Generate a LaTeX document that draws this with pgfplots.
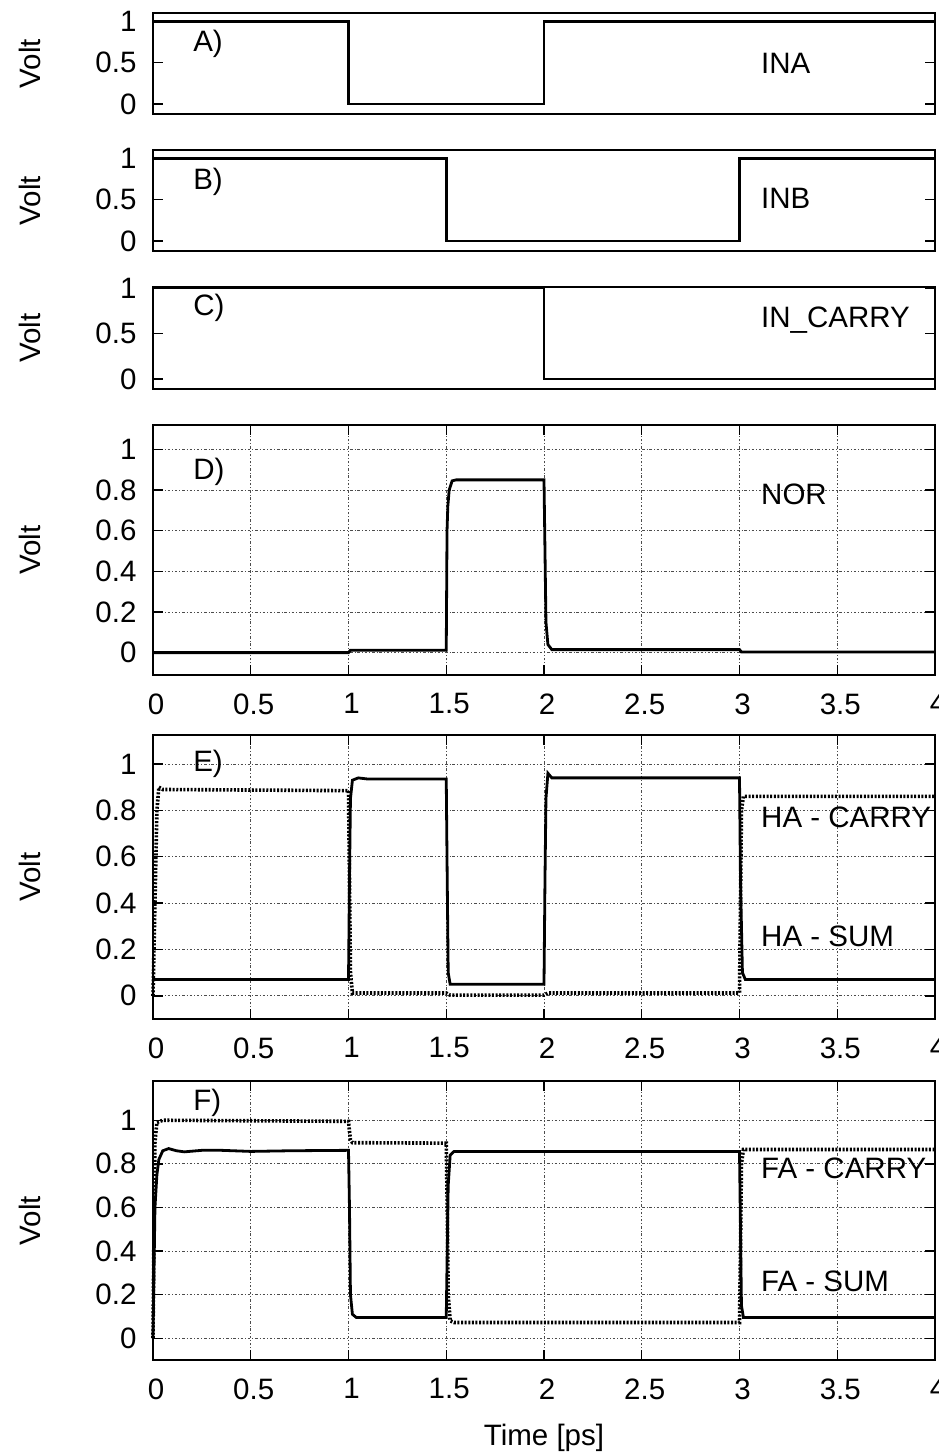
\documentclass[border=0pt]{standalone}
\usepackage{fontspec}
\setmainfont{Liberation Sans}
\usepackage{pgfplots}
\pgfplotsset{compat=1.18}
\newcommand\bigf{\fontsize{29.5}{33}\selectfont}
\tikzset{lab/.style={anchor=west, inner sep=0pt, font=\bigf}}
\pgfplotsset{
 base/.style={scale only axis, width=782pt, xmin=0, xmax=4,
   axis line style={line width=1.6pt}, tick style={line width=1.4pt, black},
   major tick length=10pt, tick align=inside,
   /pgf/number format/assume math mode=true,
   tick label style={font=\bigf}, label style={font=\bigf},
   ylabel={Volt}, ylabel style={at={(axis description cs:-0.157,0.5)}, anchor=center},
   yticklabel style={xshift=-13pt}, xticklabel style={yshift=-15pt, xshift=3pt},
   clip=false},
 small/.style={base, height=101pt, xtick=\empty, ytick={0,0.5,1}, ymin=-0.12, ymax=1.1},
 big/.style={base, xtick={0,0.5,1,1.5,2,2.5,3,3.5,4}, ytick={0,0.2,0.4,0.6,0.8,1},
   grid=major, grid style={black!70, line width=0.8pt, dash pattern=on 2.5pt off 2pt on 0.8pt off 2pt}},
 sig/.style={black, line width=2.8pt, no markers},
 carry/.style={black, line width=3.6pt, no markers, dash pattern=on 2pt off 1.6pt},
}
\begin{document}
\begin{tikzpicture}
% A
\begin{axis}[small, at={(153pt,-13pt)}, anchor=north west]
\addplot[sig] coordinates {(0,1) (1,1) (1,0) (2,0) (2,1) (4,1)};
\node[lab] at (axis cs:0.205,0.73) {A)};
\node[lab] at (axis cs:3.11,0.49) {INA};
\end{axis}
% B
\begin{axis}[small, at={(153pt,-150pt)}, anchor=north west]
\addplot[sig] coordinates {(0,1) (1.5,1) (1.5,0) (3,0) (3,1) (4,1)};
\node[lab] at (axis cs:0.205,0.72) {B)};
\node[lab] at (axis cs:3.11,0.51) {INB};
\end{axis}
% C
\begin{axis}[small, height=102pt, ymin=-0.11, ymax=1.01, at={(153pt,-287pt)}, anchor=north west]
\addplot[sig] coordinates {(0,1) (2,1) (2,0) (4,0)};
\node[lab] at (axis cs:0.205,0.78) {C)};
\node[lab] at (axis cs:3.11,0.65) {IN\_CARRY};
\end{axis}
% D
\begin{axis}[big, height=250pt, ymin=-0.11, ymax=1.12, at={(153pt,-425pt)}, anchor=north west]
\addplot[sig] coordinates {(0,0) (1,0) (1.01,0.012) (1.5,0.012) (1.502,0.3) (1.504,0.6)
 (1.508,0.72) (1.515,0.8) (1.53,0.845) (1.55,0.85) (2.0,0.85) (2.005,0.5) (2.01,0.15)
 (2.02,0.04) (2.04,0.015) (3.0,0.015) (3.01,0.003) (4,0.003)};
\node[lab] at (axis cs:0.205,0.89) {D)};
\node[lab] at (axis cs:3.11,0.78) {NOR};
\end{axis}
% E
\begin{axis}[big, height=284pt, ymin=-0.1, ymax=1.125, at={(153pt,-735pt)}, anchor=north west]
\addplot[carry] coordinates {(0,0) (0.01,0.4) (0.02,0.8) (0.03,0.9) (0.05,0.89)
 (1.0,0.885) (1.005,0.5) (1.01,0.1) (1.02,0.012) (1.5,0.012) (1.52,0.003) (2.0,0.003)
 (2.02,0.012) (3.0,0.012) (3.005,0.4) (3.01,0.8) (3.02,0.86) (4,0.86)};
\addplot[sig] coordinates {(0,0.07) (1.0,0.07) (1.005,0.5) (1.01,0.85) (1.02,0.93)
 (1.05,0.94) (1.1,0.935) (1.5,0.935) (1.505,0.5) (1.51,0.1) (1.52,0.05) (2.0,0.05)
 (2.005,0.5) (2.01,0.85) (2.02,0.96) (2.04,0.94) (3.0,0.94) (3.005,0.5) (3.015,0.1)
 (3.03,0.07) (4,0.07)};
\node[lab] at (axis cs:0.205,1.0) {E)};
\node[lab] at (axis cs:3.11,0.77) {HA - CARRY};
\node[lab] at (axis cs:3.11,0.255) {HA - SUM};
\end{axis}
% F
\begin{axis}[big, height=279pt, ymin=-0.1, ymax=1.18, at={(153pt,-1081pt)}, anchor=north west,
  xlabel={Time [ps]}, xlabel style={at={(axis description cs:0.5,-0.28)}, anchor=center}]
\addplot[carry] coordinates {(0,0) (0.005,0.5) (0.01,0.9) (0.02,0.99) (0.05,1.0)
 (1.0,0.995) (1.005,0.95) (1.01,0.91) (1.02,0.897) (1.5,0.895) (1.505,0.6) (1.51,0.2)
 (1.52,0.08) (1.54,0.072) (3.0,0.072) (3.005,0.4) (3.01,0.8) (3.02,0.866) (4,0.866)};
\addplot[sig] coordinates {(0,0) (0.005,0.3) (0.01,0.6) (0.02,0.75) (0.03,0.82) (0.05,0.86)
 (0.08,0.87) (0.12,0.86) (0.16,0.855) (0.25,0.862) (0.35,0.862) (0.5,0.857) (0.7,0.86)
 (1.0,0.862) (1.005,0.6) (1.01,0.2) (1.02,0.11) (1.04,0.095) (1.5,0.095) (1.505,0.4)
 (1.51,0.7) (1.52,0.84) (1.54,0.857) (3.0,0.857) (3.005,0.5) (3.01,0.15) (3.02,0.095)
 (4,0.095)};
\node[lab] at (axis cs:0.205,1.08) {F)};
\node[lab] at (axis cs:3.11,0.78) {FA - CARRY};
\node[lab] at (axis cs:3.11,0.26) {FA - SUM};
\end{axis}
\pgfresetboundingbox
\path (0pt,0pt) rectangle (939pt,-1453pt);
\end{tikzpicture}
\end{document}
